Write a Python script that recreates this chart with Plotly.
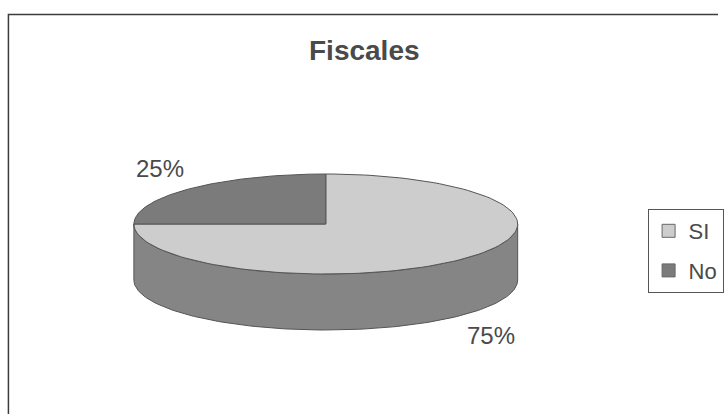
import numpy as np
import plotly.graph_objects as go

# Survey answers for "Fiscales"
categories = ["SI", "No"]
values = [75, 25]
title_text = "Fiscales"

# Greyscale palette: slice tops and the darker side wall
top_colors = ["#cdcdcd", "#7b7b7b"]
side_colors = ["#858585", "#6e6e6e"]
edge_color = "#555555"
text_color = "#4a4a4a"

# Pixel-space geometry of the tilted pie
W, H = 724, 414
cx, cy = 328.5, 224.0
rx, ry = 193.5, 50.0
depth = 56.0


def ellipse_pt(theta_deg, dy=0.0):
    """Point on the top rim; theta measured clockwise from 12 o'clock."""
    t = np.radians(theta_deg)
    return cx + rx * np.sin(t), cy - ry * np.cos(t) + dy


def arc(t0, t1, dy=0.0, n=120):
    ts = np.linspace(t0, t1, n)
    xs, ys = ellipse_pt(ts, dy)
    return list(xs), list(ys)


total = float(sum(values))
bounds = []
start = 0.0
for v in values:
    end = start + 360.0 * v / total
    bounds.append((start, end))
    start = end

fig = go.Figure()

# Side wall: only the front half (3 o'clock -> 9 o'clock) is visible
for i, (t0, t1) in enumerate(bounds):
    s0, s1 = max(t0, 90.0), min(t1, 270.0)
    if s1 <= s0:
        continue
    xt, yt = arc(s0, s1)
    xb, yb = arc(s1, s0, dy=depth)
    fig.add_trace(go.Scatter(
        x=xt + xb + [xt[0]], y=yt + yb + [yt[0]],
        mode="lines", fill="toself", fillcolor=side_colors[i],
        line=dict(color=edge_color, width=1),
        hoverinfo="skip", showlegend=False,
    ))

# Slice tops
for i, (t0, t1) in enumerate(bounds):
    xa, ya = arc(t0, t1)
    fig.add_trace(go.Scatter(
        x=[cx] + xa + [cx], y=[cy] + ya + [cy],
        mode="lines", fill="toself", fillcolor=top_colors[i],
        line=dict(color=edge_color, width=1),
        name=categories[i], hoverinfo="skip", showlegend=False,
    ))

# Legend entries as square swatches
for i, cat in enumerate(categories):
    fig.add_trace(go.Scatter(
        x=[None], y=[None], mode="markers", name=cat,
        marker=dict(symbol="square", size=13, color=top_colors[i],
                    line=dict(color="#666666", width=1)),
        legendgroup=cat,
    ))

# Percentage labels placed outside each slice
for i, (t0, t1) in enumerate(bounds):
    mid = 0.5 * (t0 + t1)
    lx, ly = ellipse_pt(mid)
    lx = cx + (lx - cx) * 1.22
    ly = cy + (ly - cy) * 1.22
    if np.cos(np.radians(mid)) < 0:
        ly += depth + 12
    else:
        ly -= 12
    fig.add_annotation(
        x=lx, y=ly, text=f"{round(100 * values[i] / total)}%",
        showarrow=False, font=dict(family="Liberation Sans, Arial", size=24,
                                   color=text_color),
    )

fig.add_annotation(
    x=368, y=50, text=f"<b>{title_text}</b>", showarrow=False,
    font=dict(family="Liberation Sans, Arial", size=28, color=text_color),
)

# Chart frame
fig.add_shape(type="rect", x0=8.5, y0=14.5, x1=W + 20, y1=H + 20,
              line=dict(color="#3c3c3c", width=1.5), layer="below")

fig.update_xaxes(range=[0, W], visible=False, fixedrange=True)
fig.update_yaxes(range=[H, 0], visible=False, fixedrange=True)

fig.update_layout(
    width=W, height=H,
    margin=dict(l=0, r=0, t=0, b=0),
    paper_bgcolor="white", plot_bgcolor="white",
    showlegend=True,
    legend=dict(
        x=653 / W, y=1 - 209 / H, xanchor="left", yanchor="top",
        bordercolor="#555555", borderwidth=1, bgcolor="white",
        font=dict(family="Liberation Sans, Arial", size=22, color=text_color),
        itemwidth=30, tracegroupgap=8,
    ),
)

fig.write_html("out.html")
